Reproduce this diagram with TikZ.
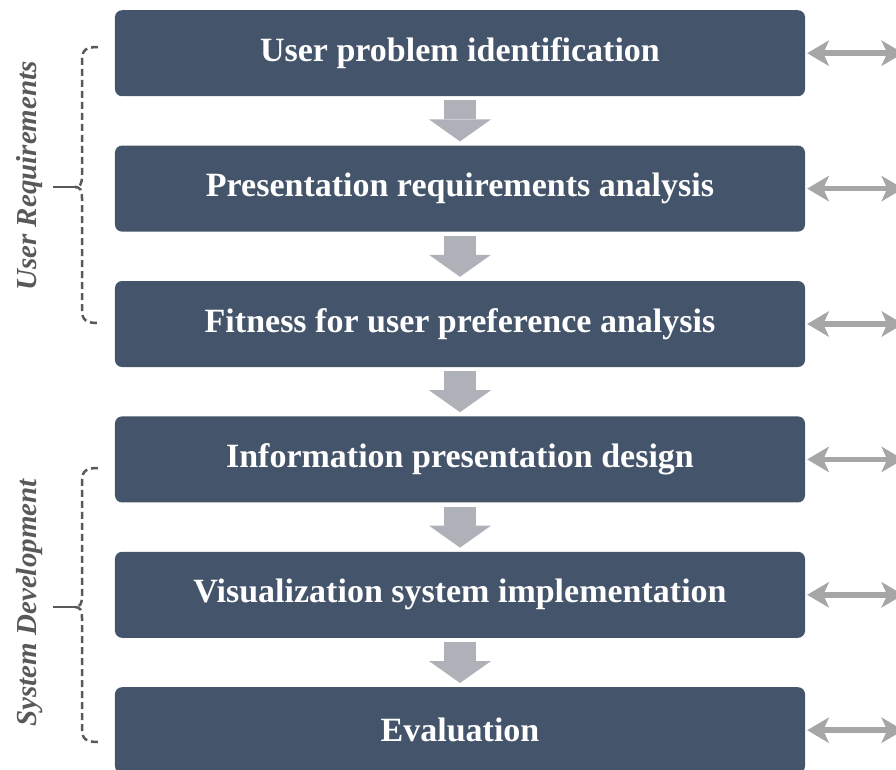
\documentclass[tikz,border=0pt]{standalone}
\usepackage{fontspec}
\setmainfont{Liberation Serif}
\usetikzlibrary{matrix,arrows.meta}
\definecolor{stepblue}{HTML}{44546A}
\definecolor{flowgray}{HTML}{AEB1B8}
\definecolor{sidegray}{HTML}{A6A6A6}
\definecolor{bracegray}{HTML}{595959}
\tikzset{
	stepbox/.style={rectangle, rounded corners=7pt, fill=stepblue, text=white, minimum width=690pt, minimum height=86pt, inner sep=0pt, font=\bfseries\fontsize{34}{40}\selectfont},
	flowarrow/.style={color=flowgray, line width=32pt, -{Triangle[length=22pt,width=62pt,line width=0pt]}, shorten <=4pt, shorten >=4pt},
	sidearrow/.style={color=sidegray, line width=5.5pt, {Stealth[length=22pt,width=26pt,inset=6pt,line width=0pt]}-{Stealth[length=22pt,width=26pt,inset=6pt,line width=0pt]}, shorten <=2pt},
	bracepart/.style={draw=bracegray, line width=2.5pt, dash pattern=on 7pt off 4pt},
	bracetip/.style={draw=bracegray, line width=2.5pt},
	grouplabel/.style={rotate=90, text=bracegray, font=\bfseries\itshape\fontsize{29}{34}\selectfont}
}
\begin{document}
\begin{tikzpicture}[x=1pt,y=-1pt]
			\useasboundingbox (0,0) rectangle (896,769);
			\matrix (s) [matrix of nodes, row sep=49.4pt, inner sep=0pt, nodes={stepbox}, anchor=north] at (460,10)
			{
				User problem identification\\
				Presentation requirements analysis\\
				Fitness for user preference analysis\\
				Information presentation design\\
				Visualization system implementation\\
				Evaluation\\
			};
			\foreach \i in {1,...,6}
				\path (s-\i-1.east) ++(98,0) coordinate (r\i);
			\path[flowarrow]
			(s-1-1) edge (s-2-1)
			(s-2-1) edge (s-3-1)
			(s-3-1) edge (s-4-1)
			(s-4-1) edge (s-5-1)
			(s-5-1) edge (s-6-1);
			\path[sidearrow]
			(s-1-1) edge (r1)
			(s-2-1) edge (r2)
			(s-3-1) edge (r3)
			(s-4-1) edge (r4)
			(s-5-1) edge (r5)
			(s-6-1) edge (r6);
			\node[grouplabel] (ureq) at (30,176) {User Requirements};
			\node[grouplabel] (sdev) at (30,603) {System Development};
			\foreach \t/\m/\b in {47/187/323, 468/607/742}
			{
				\draw[bracepart] (98,\t) .. controls (86,\t) and (82,\t+3) .. (82,\t+13) -- (82,\m-11) .. controls (82,\m-3) and (80,\m) .. (75,\m);
				\draw[bracepart] (75,\m) .. controls (80,\m) and (82,\m+3) .. (82,\m+11) -- (82,\b-13) .. controls (82,\b-3) and (86,\b) .. (98,\b);
				\draw[bracetip] (53,\m) -- (76,\m);
			}
		\end{tikzpicture}
\end{document}
